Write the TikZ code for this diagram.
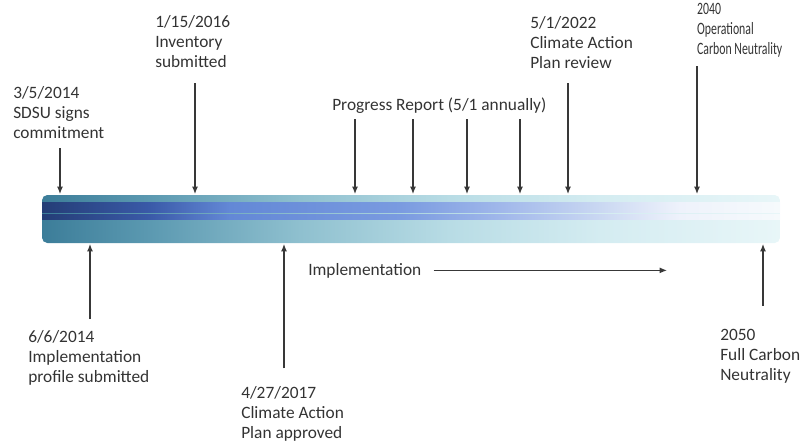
\documentclass[tikz,border=0pt]{standalone}
\usepackage{fontspec}
\setmainfont{Carlito}
\usetikzlibrary{arrows.meta}

\definecolor{inkgray}{HTML}{383838}
\definecolor{textgray}{HTML}{333333}
\definecolor{barA}{HTML}{3C7D99}
\definecolor{barB}{HTML}{5A98B0}
\definecolor{barC}{HTML}{8FC0CF}
\definecolor{barD}{HTML}{B8DCE5}
\definecolor{barE}{HTML}{D4ECF1}
\definecolor{barF}{HTML}{E8F6F8}
\definecolor{lineA}{HTML}{243D76}
\definecolor{lineB}{HTML}{3A5AA8}
\definecolor{lineC}{HTML}{6388D6}
\definecolor{lineD}{HTML}{7A9BE0}
\definecolor{lineE}{HTML}{A0B7EA}
\definecolor{lineF}{HTML}{CAD8F2}
\definecolor{lineG}{HTML}{EEF2FB}
\definecolor{lineH}{HTML}{F6FAFC}

\pgfdeclarehorizontalshading{barshade}{100bp}{color(0bp)=(barA); color(25bp)=(barA);
  color(32bp)=(barB); color(42.5bp)=(barC); color(52.6bp)=(barD); color(62.8bp)=(barE);
  color(75bp)=(barF); color(100bp)=(barF)}
\pgfdeclarehorizontalshading{stripeshade}{100bp}{color(0bp)=(lineA); color(25bp)=(lineA);
  color(32.3bp)=(lineB); color(37.7bp)=(lineC); color(49.3bp)=(lineD); color(56bp)=(lineE);
  color(62.8bp)=(lineF); color(68.2bp)=(lineG); color(75bp)=(lineH); color(100bp)=(lineH)}

\tikzstyle{note} = [anchor=base west, align=left, inner sep=0pt, text=textgray, font=\fontsize{13}{15}\selectfont]
\tikzstyle{tick} = [draw=inkgray, line width=0.9pt, -{Latex[length=5.5pt, width=4.5pt]}]

\begin{document}
\begin{tikzpicture}[x=0.75pt, y=-0.75pt]
    \useasboundingbox (0,0) rectangle (801,446);
    % Draw the bar.
    \shade [shading=barshade, rounded corners=4] (42,195) rectangle (780,243);
    \shade [shading=stripeshade] (42,202) rectangle (780,212);
    \shade [shading=stripeshade] (42,214) rectangle (780,219);
    % Points on the bar.
    \coordinate (d14) at (60,194);
    \coordinate (d16) at (195,194);
    \coordinate (r1) at (355,194);
    \coordinate (r2) at (413,194);
    \coordinate (r3) at (467,194);
    \coordinate (r4) at (520,194);
    \coordinate (d22) at (568,194);
    \coordinate (d40) at (697,194);
    \coordinate (u14) at (90,244);
    \coordinate (u17) at (284,244);
    \coordinate (u50) at (763,244);
    \coordinate (ie) at (667,268);
    % Draw the milestones above (placed at the last line).
    \node [note] (sign) at (13,138) {3/5/2014\\SDSU signs\\commitment};
    \node [note] (inv) at (155,67) {1/15/2016\\Inventory\\submitted};
    \node [note] (prog) at (332,110) {Progress Report (5/1 annually)};
    \node [note] (rev) at (530,68) {5/1/2022\\Climate Action\\Plan review};
    \node [note, xscale=0.68, transform shape] (ocn) at (697,54) {2040\\Operational\\Carbon Neutrality};
    % Draw the milestones below.
    \node [note] (prof) at (28,382) {6/6/2014\\Implementation\\profile submitted};
    \node [note] (cap) at (241,438) {4/27/2017\\Climate Action\\Plan approved};
    \node [note] (impl) at (308,275) {Implementation};
    \node [note] (fcn) at (720,380) {2050\\Full Carbon\\Neutrality};
    % Arrows down to the bar.
    \draw [tick, shorten <=7.5pt] (sign.south -| d14) -- (d14);
    \draw [tick, shorten <=12pt] (inv.south -| d16) -- (d16);
    \foreach \r in {r1,r2,r3,r4}
        \draw [tick, shorten <=4.5pt] (prog.south -| \r) -- (\r);
    \draw [tick, shorten <=11pt] (rev.south -| d22) -- (d22);
    \draw [tick, shorten <=7pt] (ocn.south -| d40) -- (d40);
    % Arrows up to the bar.
    \draw [tick, shorten <=8pt] (prof.north -| u14) -- (u14);
    \draw [tick, shorten <=13pt] (cap.north -| u17) -- (u17);
    \draw [tick, shorten <=17pt] (fcn.north -| u50) -- (u50);
    % Implementation runs on.
    \draw [tick, shorten <=9pt] (impl.east) -- (impl.east -| ie);
\end{tikzpicture}
\end{document}
